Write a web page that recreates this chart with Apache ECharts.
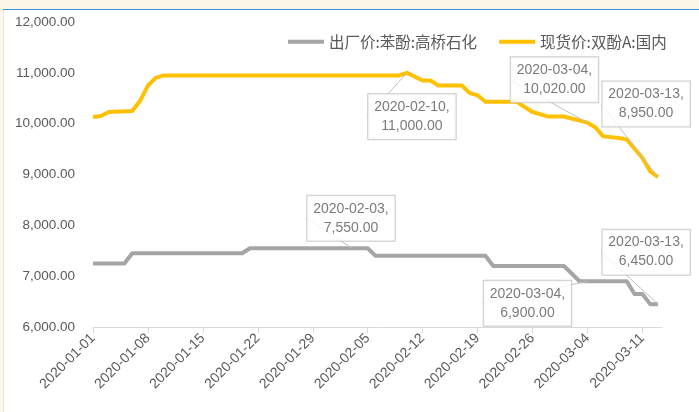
<!DOCTYPE html>
<html>
<head>
<meta charset="utf-8">
<script src="https://cdn.jsdelivr.net/npm/echarts@6/dist/echarts.min.js"></script>
<style>
    html, body { margin: 0; padding: 0; background: #fff; }
    #chart { width: 699px; height: 412px; }
</style>
</head>
<body>
<div id="chart"></div>
<script>
// 现货价:双酚A:国内 (vertices)
const bpaDates = ['2020-01-01', '2020-01-02', '2020-01-03', '2020-01-06', '2020-01-07', '2020-01-08',
    '2020-01-09', '2020-01-10', '2020-02-09', '2020-02-10', '2020-02-12', '2020-02-13', '2020-02-14',
    '2020-02-17', '2020-02-18', '2020-02-19', '2020-02-20', '2020-02-24', '2020-02-26', '2020-02-28',
    '2020-03-01', '2020-03-04', '2020-03-05', '2020-03-06', '2020-03-08', '2020-03-09', '2020-03-11',
    '2020-03-12', '2020-03-13'];
const bpaValues = [10130, 10150, 10230, 10250, 10450, 10750, 10900, 10950, 10950, 11000, 10850, 10850, 10750,
    10750, 10600, 10560, 10430, 10430, 10230, 10140, 10140, 10020, 9930, 9750, 9720, 9690, 9330,
    9060, 8950];

// 出厂价:苯酚:高桥石化
const phenolDates = ['2020-01-01', '2020-01-05', '2020-01-06', '2020-01-20', '2020-01-21', '2020-02-05',
    '2020-02-06', '2020-02-20', '2020-02-21', '2020-03-01', '2020-03-03', '2020-03-09', '2020-03-10',
    '2020-03-11', '2020-03-12', '2020-03-13'];
const phenolValues = [7250, 7250, 7450, 7450, 7550, 7550, 7400, 7400, 7200, 7200, 6900, 6900, 6650,
    6650, 6450, 6450];

const seriesNames = ['出厂价:苯酚:高桥石化', '现货价:双酚A:国内'];

// callouts
const phenolNotes = [['2020-02-03', 7550], ['2020-03-04', 6900], ['2020-03-13', 6450]];
const bpaNotes = [['2020-02-10', 11000], ['2020-03-04', 10020], ['2020-03-13', 8950]];
const phenolNoteShift = [[-1, -30], [-60, 22], [-12, -52]];
const bpaNoteShift = [[5, 44], [-33, -43], [-12, -73]];

const startDate = '2020-01-01';
const endDate = '2020-03-13';
const tickDates = ['2020-01-01', '2020-01-08', '2020-01-15', '2020-01-22', '2020-01-29', '2020-02-05',
    '2020-02-12', '2020-02-19', '2020-02-26', '2020-03-04', '2020-03-11'];

function dayIndex(s) {
    let p = s.split('-').map(Number);
    return (Date.UTC(p[0], p[1] - 1, p[2]) - Date.UTC(2020, 0, 1)) / 86400000;
}
function indexToDate(i) {
    let d = new Date(Date.UTC(2020, 0, 1) + i * 86400000);
    return d.toISOString().slice(0, 10);
}
function fmt(v) {
    return Number(v).toLocaleString('en-US', {minimumFractionDigits: 2, maximumFractionDigits: 2});
}
function pairs(dates, values) {
    return dates.map((d, i) => [dayIndex(d), values[i]]);
}

const textColor = '#595959';
const font = 'Liberation Sans, Arial, sans-serif';
const cjkFont = 'Noto Sans CJK SC, sans-serif';

function noteSeries(notes, shifts) {
    return {
        type: 'scatter',
        symbolSize: 0,
        silent: true,
        z: 5,
        data: notes.map(n => [dayIndex(n[0]), n[1]]),
        label: {
            show: true,
            position: 'inside',
            formatter: function (p) {
                return indexToDate(p.value[0]) + ',\n' + fmt(p.value[1]);
            },
            color: textColor,
            fontFamily: font,
            fontSize: 14,
            lineHeight: 19,
            align: 'center',
            backgroundColor: '#fff',
            borderColor: '#bfbfbf',
            borderWidth: 1,
            padding: [4, 6, 3, 6]
        },
        labelLine: {
            show: true,
            lineStyle: {color: '#bfbfbf', width: 1}
        },
        labelLayout: function (params) {
            let s = shifts[params.dataIndex];
            return {dx: s[0], dy: s[1]};
        }
    };
}

let chartDom = document.getElementById('chart');
let myChart = echarts.init(chartDom);
let option = {
    backgroundColor: '#fff',
    animation: false,
    graphic: [
        {type: 'rect', shape: {x: 0, y: 0, width: 699, height: 9}, style: {fill: '#fdf7ea'}, silent: true},
        {type: 'rect', shape: {x: 0, y: 0, width: 3, height: 412}, style: {fill: '#fdf7ea'}, silent: true},
        {type: 'line', shape: {x1: 3, y1: 9.5, x2: 699, y2: 9.5}, style: {stroke: '#3a93d8', lineWidth: 1}, silent: true},
        {type: 'line', shape: {x1: 3.5, y1: 10, x2: 3.5, y2: 412}, style: {stroke: '#ece6da', lineWidth: 1}, silent: true}
    ],
    legend: {
        data: seriesNames,
        left: 283,
        top: 29,
        itemWidth: 36,
        itemHeight: 4,
        itemGap: 22,
        icon: 'rect',
        textStyle: {
            color: textColor,
            fontFamily: cjkFont,
            fontSize: 15.5
        }
    },
    grid: {
        left: 93,
        right: 37,
        top: 22,
        bottom: 85
    },
    xAxis: {
        type: 'value',
        min: dayIndex(startDate),
        max: dayIndex(endDate) + 0.5,
        splitLine: {show: false},
        axisLine: {show: true, lineStyle: {color: '#d9d9d9'}},
        axisTick: {
            show: true,
            length: 6,
            lineStyle: {color: '#d9d9d9'},
            customValues: tickDates.map(dayIndex)
        },
        axisLabel: {
            rotate: 45,
            margin: 9,
            color: textColor,
            fontFamily: font,
            fontSize: 14,
            customValues: tickDates.map(dayIndex),
            formatter: function (value) {
                return indexToDate(value);
            }
        }
    },
    yAxis: {
        type: 'value',
        min: 6000,
        max: 12000,
        interval: 1000,
        splitLine: {show: false},
        axisLine: {show: false},
        axisTick: {show: false},
        axisLabel: {
            margin: 18,
            color: textColor,
            fontFamily: font,
            fontSize: 13.5,
            formatter: function (value) {
                return fmt(value);
            }
        }
    },
    series: [
        {
            name: seriesNames[0],
            type: 'line',
            symbol: 'none',
            color: '#a5a5a5',
            lineStyle: {width: 4, color: '#a5a5a5', join: 'round'},
            data: pairs(phenolDates, phenolValues)
        },
        {
            name: seriesNames[1],
            type: 'line',
            symbol: 'none',
            color: '#ffc000',
            lineStyle: {width: 4, color: '#ffc000', join: 'round'},
            data: pairs(bpaDates, bpaValues)
        },
        noteSeries(phenolNotes, phenolNoteShift),
        noteSeries(bpaNotes, bpaNoteShift)
    ]
};
option && myChart.setOption(option);
</script>
</body>
</html>
